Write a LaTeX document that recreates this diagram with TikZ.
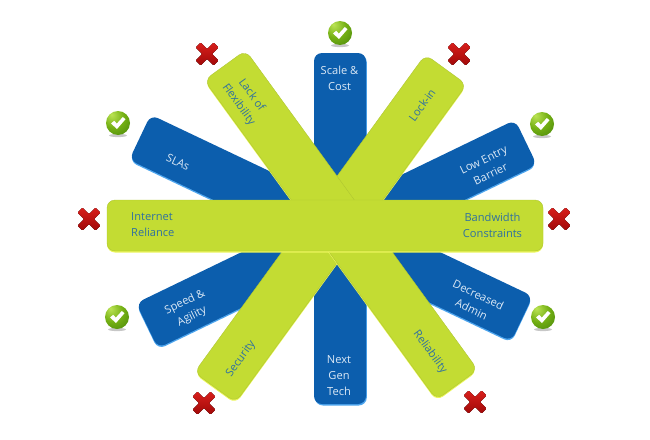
\documentclass[tikz,border=0pt]{standalone}
\usepackage{fontspec}
\setmainfont{Open Sans}
\usetikzlibrary{shadings}
\definecolor{barG}{HTML}{C3DC33}
\definecolor{barGhi}{HTML}{EAF55A}
\definecolor{barGline}{HTML}{AFC632}
\definecolor{barB}{HTML}{0C5EAD}
\definecolor{barBhi}{HTML}{4FA6EE}
\definecolor{txtG}{HTML}{2F70A0}
\definecolor{txtB}{HTML}{DCE9F6}
\definecolor{crossHi}{HTML}{D8201C}
\definecolor{crossLo}{HTML}{A00808}
\tikzset{
  x=1pt,y=-1pt,
  barbase/.style={rounded corners=8pt,inner sep=0pt,minimum height=50pt},
  greenbar/.style={barbase,fill=barG,draw=barGline,line width=.4pt},
  greenhi/.style={barbase,fill=barGhi},
  bluebar/.style={barbase,fill=barB},
  bluehi/.style={barbase,fill=barBhi},
  gtext/.style={text=txtG,font=\fontsize{11.1}{16}\selectfont,align=center,inner sep=0pt},
  btext/.style={text=txtB,font=\fontsize{11.1}{16}\selectfont,align=center,inner sep=0pt},
}
\definecolor{checkLo}{HTML}{3C7A08}
\definecolor{checkMid}{HTML}{74B014}
\definecolor{checkHi}{HTML}{BCE455}
\pgfdeclareradialshading{ballshade}{\pgfpoint{-14bp}{18bp}}{
  color(0bp)=(checkHi);color(22bp)=(checkMid);color(50bp)=(checkLo);color(70bp)=(checkLo)}
\newcommand{\spoke}[8]{% name, cx, cy, length, width, angle, colour prefix, shift
  \node[#7hi,minimum width=#4pt,minimum height=#5pt,rotate=#6] (#1hi) at (#2+#8,#3+1.5) {};
  \node[#7bar,minimum width=#4pt,minimum height=#5pt,rotate=#6] (#1) at (#2,#3) {};
}
\newcommand{\okmark}[3]{%
  \fill[black,opacity=.22] (#2,#3+12.5) ellipse (9 and 1.6);
  \node[circle,minimum size=24pt,inner sep=0pt,shading=ballshade] (#1) at (#2,#3) {};
  \fill[white] (#2-7,#3+0.5) -- (#2-3.8,#3-2.2) -- (#2-1.2,#3+0.6) -- (#2+4.8,#3-6) -- (#2+7.5,#3-3.8) -- (#2-1,#3+6) -- cycle;
}
\newcommand{\nomark}[3]{%
  \coordinate (#1) at (#2,#3);
  \fill[rounded corners=1pt,top color=crossHi,bottom color=crossLo]
    (#2-6.5,#3-11.5) -- (#2,#3-5) -- (#2+6.5,#3-11.5) -- (#2+11.5,#3-6.5) -- (#2+5,#3) -- (#2+11.5,#3+6.5) -- (#2+6.5,#3+11.5) -- (#2,#3+5) -- (#2-6.5,#3+11.5) -- (#2-11.5,#3+6.5) -- (#2-5,#3) -- (#2-11.5,#3-6.5) -- cycle;
}
\begin{document}
\begin{tikzpicture}
\useasboundingbox (0,0) rectangle (650,439);
% blue spokes
\spoke{slaAdmin}{331}{228}{423}{50}{-25.4}{blue}{0}
\spoke{lowSpeed}{336.5}{234}{421}{50}{25.8}{blue}{0}
\spoke{scaleNext}{340}{228.5}{351}{52}{90}{blue}{0.8}
% green spokes
\spoke{lockSec}{330.5}{228.5}{393}{51}{54}{green}{0}
\spoke{lackRel}{341}{225}{395}{51}{-54}{green}{0}
\spoke{hbar}{325}{225.5}{436}{51}{0}{green}{0}
% labels
\node[btext] (tScale) at (339.5,78) {Scale \&\\Cost};
\node[btext] (tNext) at (339,375.5) {Next\\Gen\\Tech};
\node[btext,rotate=-25.4] (tSLA) at (178,162) {SLAs};
\node[btext,rotate=25.8] (tLow) at (487,167) {Low Entry\\Barrier};
\node[btext,rotate=25.8] (tSpeed) at (188.5,309.5) {Speed \&\\Agility};
\node[btext,rotate=-25.4] (tDec) at (475,302) {Decreased\\Admin};
\node[gtext,rotate=-54] (tLack) at (245,100) {Lack of\\Flexibility};
\node[gtext,rotate=54] (tLock) at (422,105) {Lock-in};
\node[gtext,rotate=54] (tSec) at (241,359) {Security};
\node[gtext,rotate=-54] (tRel) at (430,352) {Reliability};
\node[gtext,align=left,anchor=west] (tNet) at (131,225) {Internet\\Reliance};
\node[gtext] (tBand) at (492.5,225) {Bandwidth\\Constraints};
% status icons
\okmark{c1}{340}{33}
\okmark{c2}{118}{123}
\okmark{c3}{542}{124}
\okmark{c4}{117}{317}
\okmark{c5}{543}{317}
\nomark{x1}{207}{54}
\nomark{x2}{459}{54}
\nomark{x3}{89}{219}
\nomark{x4}{559}{219}
\nomark{x5}{204}{403}
\nomark{x6}{475}{402}
\end{tikzpicture}
\end{document}
